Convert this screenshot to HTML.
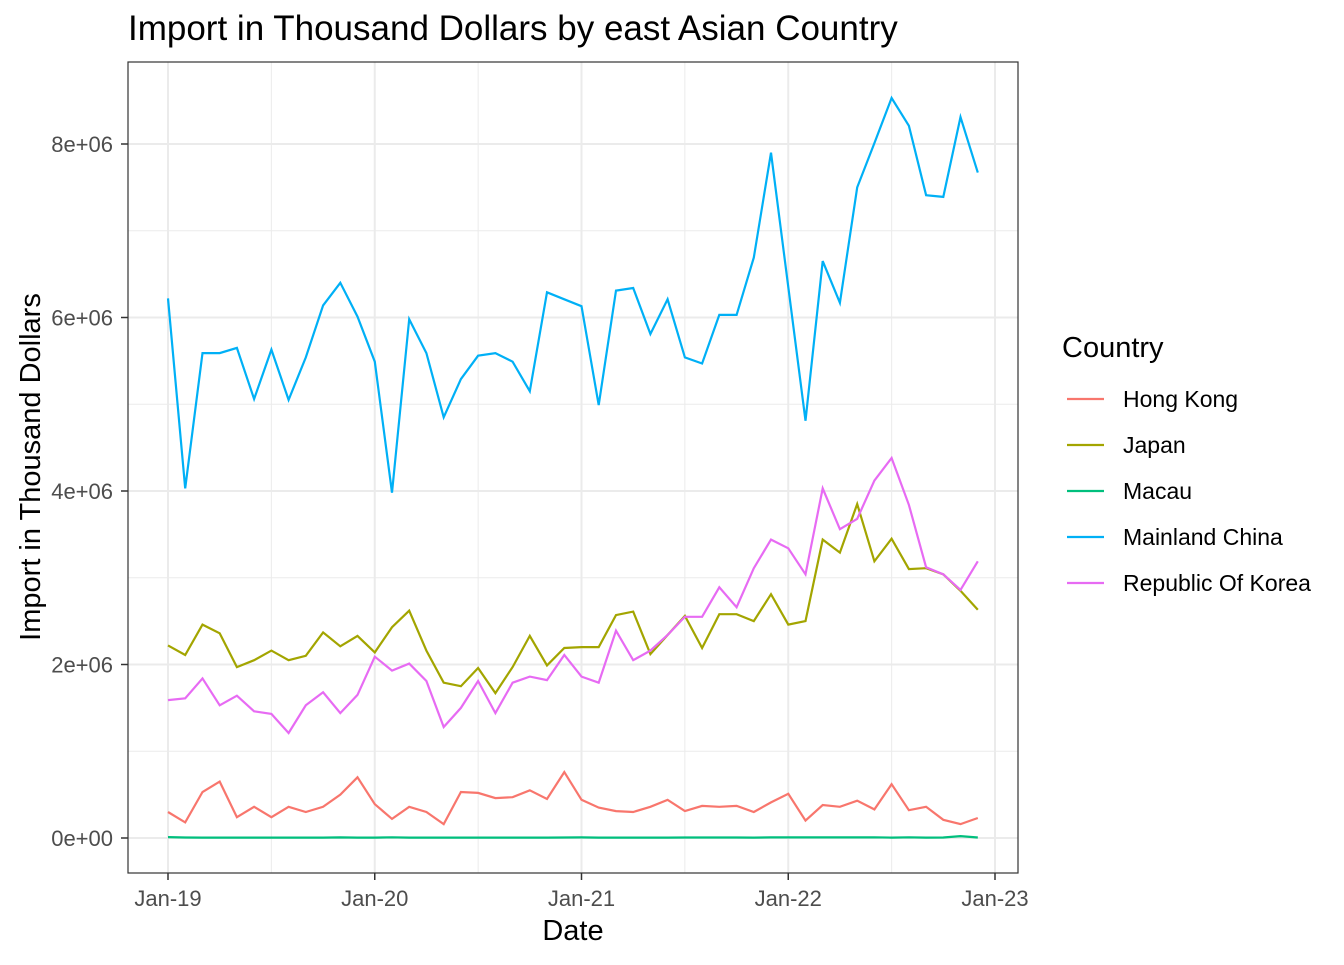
<!DOCTYPE html>
<html><head><meta charset="utf-8"><style>
body{margin:0;background:#fff;}
svg{font-family:"Liberation Sans",Arial,sans-serif;}
</style></head><body>
<svg id="chart" width="1344" height="960" xmlns="http://www.w3.org/2000/svg"></svg>
<script>
const months = Array.from({length:48},(_,i)=>i); // Jan-19 .. Dec-22 month index
const xTickLabels = ["Jan-19","Jan-20","Jan-21","Jan-22","Jan-23"];
const yTicks = [0,2e6,4e6,6e6,8e6];
const yTickLabels = ["0e+00","2e+06","4e+06","6e+06","8e+06"];
const countries = ["Hong Kong","Japan","Macau","Mainland China","Republic Of Korea"];
const colors = ["#F8766D","#A3A500","#00BF7D","#00B0F6","#E76BF3"];
const hongKong = [0.30,0.18,0.53,0.65,0.24,0.36,0.24,0.36,0.30,0.36,0.50,0.70,0.39,0.22,0.36,0.30,0.16,0.53,0.52,0.46,0.47,0.55,0.45,0.76,0.44,0.35,0.31,0.30,0.36,0.44,0.31,0.37,0.36,0.37,0.30,0.41,0.51,0.20,0.38,0.36,0.43,0.33,0.62,0.32,0.36,0.21,0.16,0.23];
const japan = [2.22,2.11,2.46,2.36,1.97,2.05,2.16,2.05,2.10,2.37,2.21,2.33,2.14,2.43,2.62,2.16,1.79,1.75,1.96,1.67,1.97,2.33,1.99,2.19,2.20,2.20,2.57,2.61,2.12,2.34,2.56,2.19,2.58,2.58,2.50,2.81,2.46,2.50,3.44,3.29,3.85,3.19,3.45,3.10,3.11,3.04,2.85,2.63];
const macau = [0.010,0.006,0.005,0.005,0.005,0.005,0.005,0.005,0.005,0.005,0.007,0.005,0.005,0.008,0.005,0.005,0.005,0.005,0.005,0.005,0.005,0.005,0.005,0.006,0.007,0.005,0.005,0.005,0.005,0.005,0.006,0.006,0.006,0.006,0.005,0.007,0.007,0.007,0.007,0.007,0.007,0.008,0.005,0.008,0.005,0.006,0.022,0.006];
const china = [6.22,4.03,5.59,5.59,5.65,5.06,5.63,5.05,5.54,6.14,6.40,6.01,5.49,3.98,5.98,5.59,4.85,5.29,5.56,5.59,5.49,5.15,6.29,6.21,6.13,4.99,6.31,6.34,5.81,6.21,5.54,5.47,6.03,6.03,6.69,7.90,6.35,4.81,6.65,6.17,7.50,8.01,8.53,8.21,7.41,7.39,8.31,7.67];
const korea = [1.59,1.61,1.84,1.53,1.64,1.46,1.43,1.21,1.53,1.68,1.44,1.65,2.09,1.93,2.01,1.81,1.28,1.50,1.81,1.44,1.79,1.86,1.82,2.11,1.86,1.79,2.39,2.05,2.16,2.34,2.55,2.55,2.89,2.66,3.11,3.44,3.34,3.04,4.03,3.56,3.68,4.12,4.38,3.84,3.12,3.04,2.86,3.19];
const seriesList = [hongKong,japan,macau,china,korea];

const svg = document.getElementById('chart');
const NS = "http://www.w3.org/2000/svg";
const P = {l:128,r:1018,t:62,b:873};
const x = m => 168 + m*(995-168)/48;
const y = v => 838 - v*(838-144)/8e6;
function mk(tag, attrs, parent){const e=document.createElementNS(NS,tag);for(const k in attrs)e.setAttribute(k,attrs[k]);(parent||svg).appendChild(e);return e;}

// grid
const grid = mk('g',{});


for(let v=1e6; v<9e6; v+=2e6) mk('line',{x1:P.l,x2:P.r,y1:y(v),y2:y(v),stroke:'#ebebeb','stroke-width':1},grid);
for(let m=-6; m<=54; m+=12){const xx=x(m); if(xx>P.l&&xx<P.r) mk('line',{x1:xx,x2:xx,y1:P.t,y2:P.b,stroke:'#ebebeb','stroke-width':1},grid);}
yTicks.forEach(v=>mk('line',{x1:P.l,x2:P.r,y1:y(v),y2:y(v),stroke:'#ebebeb','stroke-width':2},grid));
xTickLabels.forEach((t,i)=>mk('line',{x1:x(i*12),x2:x(i*12),y1:P.t,y2:P.b,stroke:'#ebebeb','stroke-width':2},grid));

// series
seriesList.forEach((s,si)=>{
  const d = s.map((v,i)=>(i?'L':'M')+x(months[i]).toFixed(1)+','+y(v*1e6).toFixed(1)).join('');
  const p = mk('path',{d,fill:'none',stroke:colors[si],'stroke-width':2.2});
  
  
});

// panel border
const border = mk('rect',{x:P.l,y:P.t,width:P.r-P.l,height:P.b-P.t,fill:'none',stroke:'#333','stroke-width':1.2});



// axes ticks + labels
yTicks.forEach((v,i)=>{
  mk('line',{x1:P.l-7,x2:P.l,y1:y(v),y2:y(v),stroke:'#333','stroke-width':1.5});
  const t = mk('text',{x:P.l-15,y:y(v)+8,'text-anchor':'end','font-size':22,fill:'#4d4d4d'});
  t.textContent = yTickLabels[i];
  
  
});
xTickLabels.forEach((lab,i)=>{
  const xx = x(i*12);
  mk('line',{x1:xx,x2:xx,y1:P.b,y2:P.b+7,stroke:'#333','stroke-width':1.5});
  const t = mk('text',{x:xx,y:906,'text-anchor':'middle','font-size':22,fill:'#4d4d4d'});
  t.textContent = lab;
  
  
});

const title = mk('text',{x:128,y:40,'font-size':35,fill:'#000'});
title.textContent = 'Import in Thousand Dollars by east Asian Country';



const xt = mk('text',{x:573,y:940,'text-anchor':'middle','font-size':29,fill:'#000'});
xt.textContent = 'Date';



const yt = mk('text',{x:0,y:0,'text-anchor':'middle','font-size':29,fill:'#000',transform:'translate(40,467) rotate(-90)'});
yt.textContent = 'Import in Thousand Dollars';



// legend
const lg = mk('g',{});


const lt = mk('text',{x:1062,y:357,'font-size':29,fill:'#000'},lg);
lt.textContent = 'Country';


countries.forEach((c,i)=>{
  const yy = 399 + i*46;
  const g = mk('g',{},lg);
  
  
  mk('line',{x1:1067,x2:1104,y1:yy,y2:yy,stroke:colors[i],'stroke-width':2.2},g);
  const t = mk('text',{x:1123,y:yy+8,'font-size':23,fill:'#000'},g);
  t.textContent = c;
});
</script>
</body></html>
